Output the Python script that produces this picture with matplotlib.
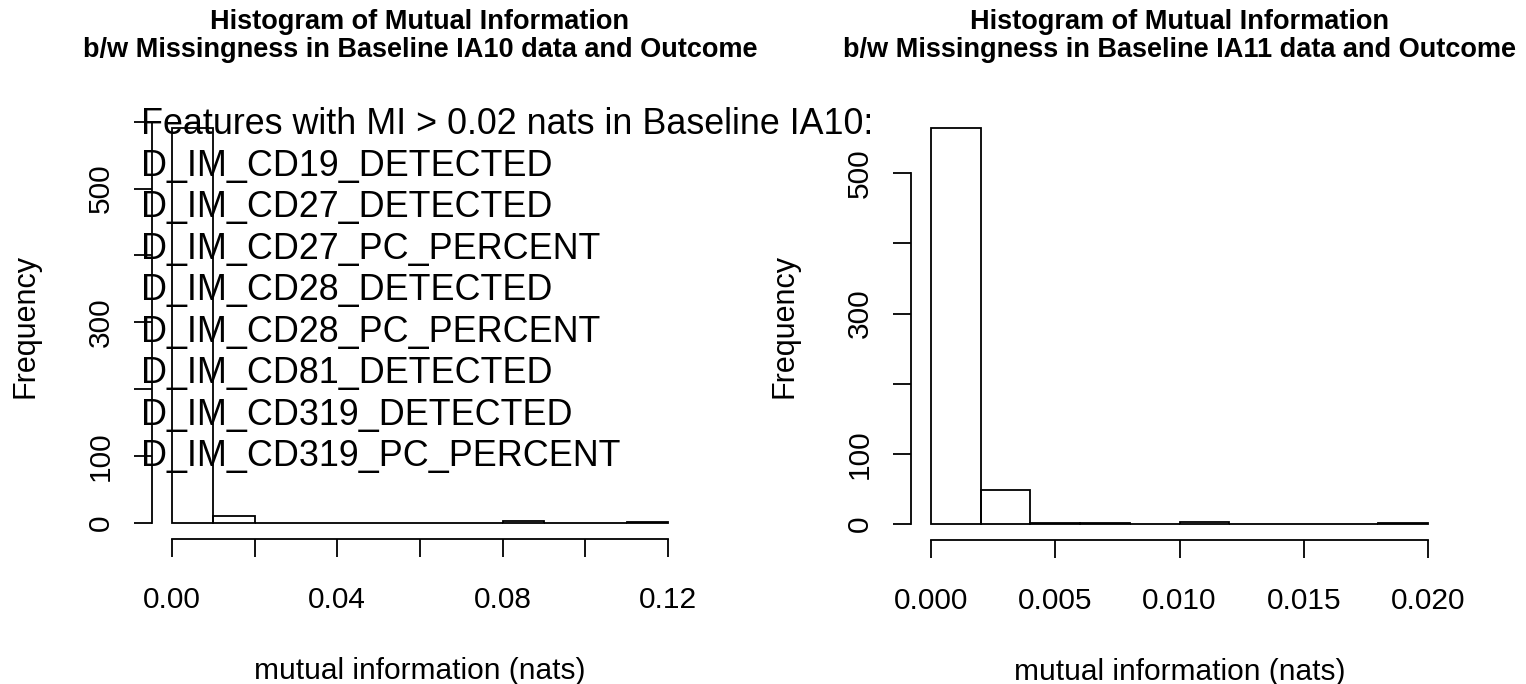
import numpy as np
import matplotlib
matplotlib.use("Agg")
import matplotlib.pyplot as plt

plt.rcParams['font.family'] = ['Liberation Sans', 'DejaVu Sans']

# histogram data
ia10_edges = np.linspace(0, 0.12, 13)
ia10_counts = [590, 11, 1, 0, 1, 0, 0, 0, 4, 0, 0, 2]
ia10_xticks = [0.00, 0.02, 0.04, 0.06, 0.08, 0.10, 0.12]
ia10_xlabels = ['0.00', '', '0.04', '', '0.08', '', '0.12']
ia10_yticks = [0, 100, 200, 300, 400, 500, 600]
ia10_ylabels = ['0', '100', '', '300', '', '500', '']

ia11_edges = np.linspace(0, 0.02, 11)
ia11_counts = [564, 48, 2, 1, 0, 3, 0, 0, 0, 2]
ia11_xticks = [0.000, 0.005, 0.010, 0.015, 0.020]
ia11_xlabels = ['0.000', '0.005', '0.010', '0.015', '0.020']
ia11_yticks = [0, 100, 200, 300, 400, 500]
ia11_ylabels = ['0', '100', '', '300', '', '500']

header = 'Features with MI > 0.02 nats in Baseline IA10:'
features = ['D_IM_CD19_DETECTED', 'D_IM_CD27_DETECTED', 'D_IM_CD27_PC_PERCENT',
            'D_IM_CD28_DETECTED', 'D_IM_CD28_PC_PERCENT', 'D_IM_CD81_DETECTED',
            'D_IM_CD319_DETECTED', 'D_IM_CD319_PC_PERCENT']

W, H = 1526, 684
fig = plt.figure(figsize=(W / 100, H / 100), dpi=100)


def r_hist(ax, edges, counts, xticks, xlabels, yticks, ylabels, dataset):
    edges = np.asarray(edges)
    ax.bar(edges[:-1], counts, width=np.diff(edges), align='edge',
           fill=False, edgecolor='black', linewidth=1.3)
    span = edges[-1] - edges[0]
    ax.set_xlim(edges[0] - 0.04 * span, edges[-1] + 0.04 * span)
    top = max(counts)
    ax.set_ylim(-0.04 * top, 1.04 * top)
    for s in ['top', 'right']:
        ax.spines[s].set_visible(False)
    ax.spines['left'].set_bounds(yticks[0], yticks[-1])
    ax.spines['bottom'].set_bounds(xticks[0], xticks[-1])
    for s in ['left', 'bottom']:
        ax.spines[s].set_linewidth(1.3)
    ax.set_xticks(xticks, xlabels)
    ax.set_yticks(yticks, ylabels, rotation=90, va='center')
    ax.tick_params(axis='both', length=13, width=1.3, labelsize=21.5)
    ax.tick_params(axis='x', pad=21)
    ax.tick_params(axis='y', pad=14)
    ax.set_xlabel('mutual information (nats)', fontsize=21.5, labelpad=31)
    ax.set_ylabel('Frequency', fontsize=22, labelpad=33)
    ax.set_title('Histogram of Mutual Information\n'
                 'b/w Missingness in Baseline ' + dataset + ' data and Outcome',
                 fontsize=19.5, fontweight='bold', pad=40, linespacing=1.1)


ax1 = fig.add_axes([152 / W, 1 - 539 / H, 536 / W, 426.5 / H])
r_hist(ax1, ia10_edges, ia10_counts, ia10_xticks, ia10_xlabels,
       ia10_yticks, ia10_ylabels, 'IA10')

ax2 = fig.add_axes([911 / W, 1 - 540 / H, 537 / W, 427.5 / H])
r_hist(ax2, ia11_edges, ia11_counts, ia11_xticks, ia11_xlabels,
       ia11_yticks, ia11_ylabels, 'IA11')

# text() block in the left panel, one line at a time (like R's text with \n)
y0, step = 581, 62
for i, line in enumerate([header] + features):
    ax1.text(-0.0075, y0 - i * step, line, ha='left', va='baseline',
             fontsize=25.8, clip_on=False)

fig.savefig('out.png', dpi=100)
